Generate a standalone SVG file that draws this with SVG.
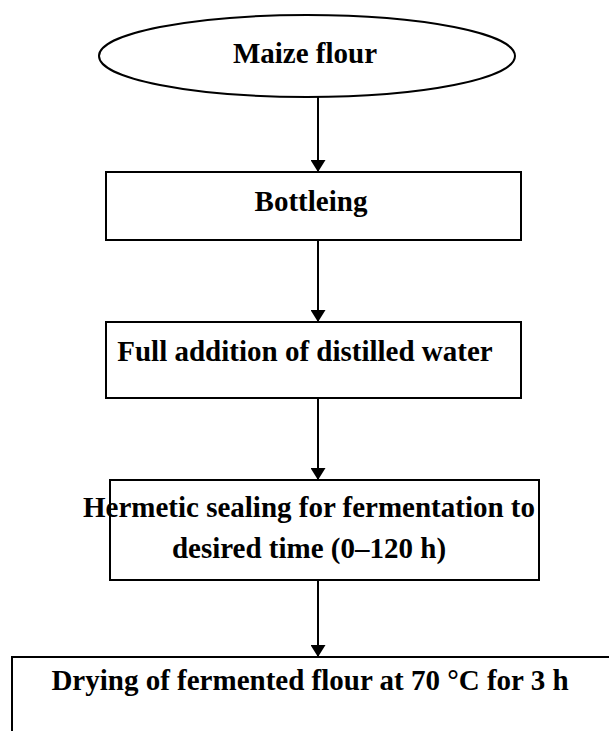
<svg xmlns="http://www.w3.org/2000/svg" width="609" height="731" viewBox="0 0 609 731">
<defs>
<style>
.shape{fill:#fff;stroke:#000;stroke-width:2}
.lbl{font-family:"Liberation Serif","Times New Roman",serif;font-weight:bold;font-size:29px;fill:#000;text-anchor:middle}
.conn{stroke:#000;stroke-width:2;fill:none}
</style>
<marker id="ah" viewBox="0 0 12 15" refX="12" refY="7.5" markerWidth="12" markerHeight="15" markerUnits="userSpaceOnUse" orient="auto">
<path d="M0,0 L12,7.5 L0,15 Z" fill="#000"/>
</marker>
</defs>
<rect width="609" height="731" fill="#fff"/>
<g id="maize">
<ellipse class="shape" cx="307" cy="56" rx="208" ry="41"/>
<text class="lbl" x="305" y="63">Maize flour</text>
</g>
<g id="bottleing">
<rect class="shape" x="106" y="172" width="415" height="68"/>
<text class="lbl" x="311" y="211">Bottleing</text>
</g>
<g id="addition">
<rect class="shape" x="106" y="322" width="415" height="76"/>
<text class="lbl" x="305" y="361">Full addition of distilled water</text>
</g>
<g id="sealing">
<rect class="shape" x="110" y="480" width="429" height="100"/>
<text class="lbl" x="309" y="517">Hermetic sealing for fermentation to</text>
<text class="lbl" x="309" y="558">desired time (0–120 h)</text>
</g>
<g id="drying">
<rect class="shape" x="12" y="657" width="620" height="100"/>
<text class="lbl" x="310" y="690">Drying of fermented flour at 70 °C for 3 h</text>
</g>
<g id="connectors">
<line class="conn" x1="318" y1="97" x2="318" y2="172" marker-end="url(#ah)"/>
<line class="conn" x1="318" y1="240" x2="318" y2="322" marker-end="url(#ah)"/>
<line class="conn" x1="318" y1="398" x2="318" y2="480" marker-end="url(#ah)"/>
<line class="conn" x1="318" y1="580" x2="318" y2="657" marker-end="url(#ah)"/>
</g>
</svg>
